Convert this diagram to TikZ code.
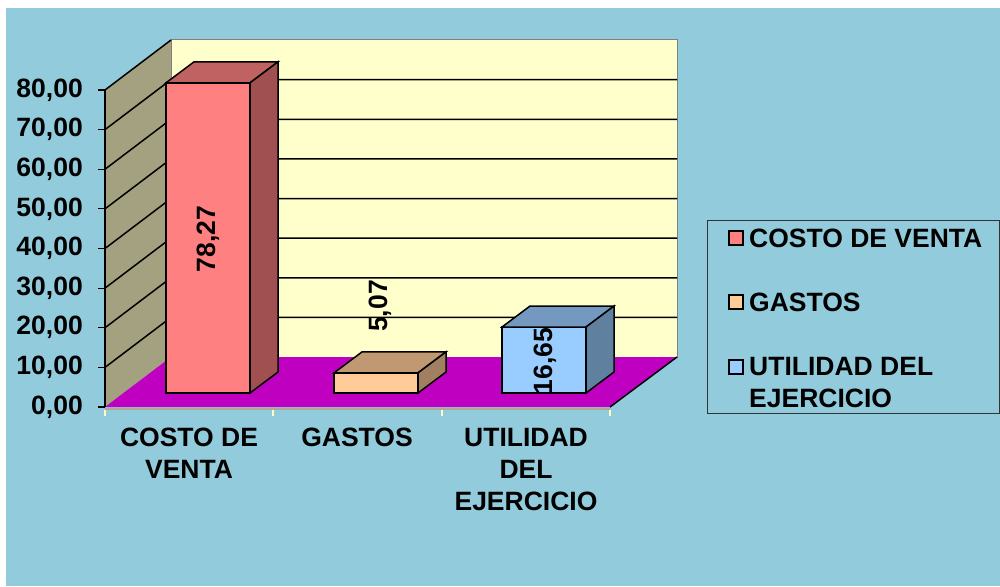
\documentclass[tikz,border=0pt]{standalone}
\usepackage{fontspec}
\setmainfont{Liberation Sans}
\usepackage{tikz}
\usetikzlibrary{calc}
\definecolor{fondo}{RGB}{146,204,220}
\definecolor{pared}{RGB}{255,255,204}
\definecolor{lateral}{RGB}{163,161,127}
\definecolor{piso}{RGB}{192,0,192}
\definecolor{borde}{RGB}{176,168,144}
\definecolor{rojo}{RGB}{255,128,128}
\definecolor{rojoarriba}{RGB}{192,98,98}
\definecolor{rojolado}{RGB}{160,80,80}
\definecolor{naranja}{RGB}{255,204,153}
\definecolor{naranjaarriba}{RGB}{192,153,115}
\definecolor{naranjalado}{RGB}{160,128,96}
\definecolor{azul}{RGB}{153,204,255}
\definecolor{azularriba}{RGB}{115,153,192}
\definecolor{azullado}{RGB}{96,128,160}
\def\bloque(#1:#2)[#3:#4:#5]{
	\draw[line width=1.5pt, fill=#3] (#1, 393) rectangle (#1+84, 393-#2*3.9625);
	\draw[line width=1.5pt, fill=#4] (#1, 393-#2*3.9625) -- ++(28,-21) -- ++(84,0) -- ++(-28,21) -- cycle;
	\draw[line width=1.5pt, fill=#5] (#1+84, 393) -- ++(28,-21) -- ++(0,-#2*3.9625) -- ++(-28,21) -- cycle;}

\begin{document}
\begin{tikzpicture}[x=1pt, y=-1pt, font=\bfseries\fontsize{26.5}{32}\selectfont]
			%%%%% START %%%%%
			
			\useasboundingbox (0,0) rectangle (1000,586);
			\fill[white] (0,0) rectangle (1000,586);
			\fill[fondo] (6,8) rectangle (1000,586);
			
			\fill[lateral] (105,407) -- (105,90) -- (171,40) -- (171,357) -- cycle;
			\draw[line width=1pt, color=gray, fill=pared] (171,357) rectangle (677,40);
			
			\foreach \k in {1,...,7}
				\draw[line width=1.5pt] (105,407-\k*39.625) -- ++(66,-50) -- (677,357-\k*39.625);
			\draw[line width=1.5pt] (105,90) -- (171,40);
			
			\fill[piso] (105,407) -- (610,407) -- (677,357) -- (171,357) -- cycle;
			\draw[line width=1.5pt] (610,407) -- (677,357);
			\draw[line width=2pt, color=borde] (105,408.5) -- (610,408.5);
			\foreach \x in {105,273.3,441.7,610}
				\draw[line width=2pt, color=pared] (\x,409.5) -- (\x,416);
			
			\draw[line width=1.5pt] (105,407) -- (105,90);
			\foreach \k in {0,...,8} {
				\draw[line width=1.2pt] (98,407-\k*39.625) -- (105,407-\k*39.625);
				\node[anchor=east, inner sep=0] (y\k) at (83,407-\k*39.625) {\ifnum\k=0 0\else\k0\fi,00};
			}
			
			\bloque(166:78.27)[rojo:rojoarriba:rojolado]
			\bloque(334:5.07)[naranja:naranjaarriba:naranjalado]
			\bloque(502:16.65)[azul:azularriba:azullado]
			
			\node[rotate=90] (v1) at (208,239) {78,27};
			\node[rotate=90] (v2) at (380,306) {5,07};
			\node[rotate=90] (v3) at (545,361) {16,65};
			
			\node[anchor=north, align=center, inner sep=0] (c1) at (189,428) {COSTO DE\\VENTA};
			\node[anchor=north, align=center, inner sep=0] (c2) at (357,428) {GASTOS};
			\node[anchor=north, align=center, inner sep=0] (c3) at (526,428) {UTILIDAD\\DEL\\EJERCICIO};
			
			\draw[line width=1pt, color=black!80] (707,220) rectangle (999,413);
			\draw[line width=1.5pt, fill=rojo] (729,231) rectangle (743,245);
			\draw[line width=1.5pt, fill=naranja] (729,295) rectangle (743,309);
			\draw[line width=1.5pt, fill=azul] (729,360) rectangle (743,374);
			\node[anchor=west, inner sep=0] (l1) at (749,238) {COSTO DE VENTA};
			\node[anchor=west, inner sep=0] (l2) at (749,302) {GASTOS};
			\node[anchor=north west, align=left, inner sep=0] (l3) at (749,357) {UTILIDAD DEL\\EJERCICIO};
			
			%%%%% END %%%%%
\end{tikzpicture}
\end{document}
